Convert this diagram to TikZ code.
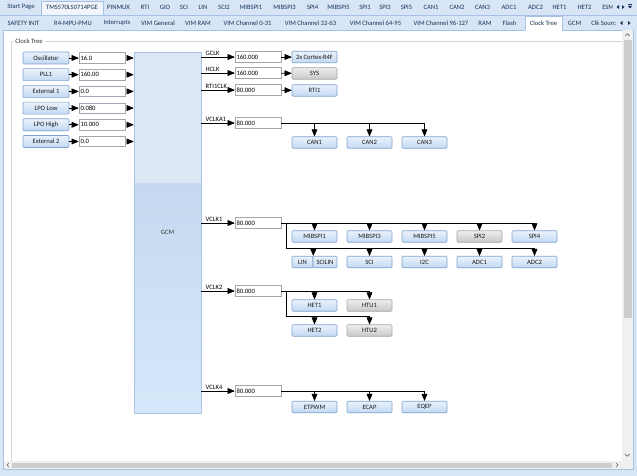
\documentclass[tikz,border=0pt]{standalone}
\usepackage{fontspec}
\setmainfont{Carlito}
\usetikzlibrary{calc,arrows}

\definecolor{tabbg}{HTML}{D7E5F6}
\definecolor{tabline}{HTML}{A7C1E3}
\definecolor{tabtext}{HTML}{1A3354}
\definecolor{btnbord}{HTML}{7FA3CF}
\definecolor{btntop}{HTML}{EAF2FC}
\definecolor{btnbot}{HTML}{C3D9F2}
\definecolor{gbord}{HTML}{A6A6A6}
\definecolor{gtop}{HTML}{EEEEEE}
\definecolor{gbot}{HTML}{C8C8C8}
\definecolor{boxbord}{HTML}{A4A7AF}
\definecolor{gcmbord}{HTML}{A9C4E4}
\definecolor{gcmtop}{HTML}{DCE7F4}
\definecolor{gcmmid}{HTML}{C5D9F0}
\definecolor{gcmlow}{HTML}{D6E7FA}
\definecolor{grpline}{HTML}{CDD7E1}
\definecolor{sbtrack}{HTML}{F0F0F0}
\definecolor{sbthumb}{HTML}{CDCDCD}

\newcommand\uifont{\fontsize{6.6}{7.5}\selectfont}

\tikzset{
  tab/.style={font=\uifont, text=tabtext, inner sep=0pt},
  btn/.style={draw=btnbord, top color=btntop, bottom color=btnbot, rounded corners=1pt,
    minimum width=45pt, minimum height=11.5pt, inner sep=0pt, font=\uifont, text=black!90},
  gbtn/.style={btn, draw=gbord, top color=gtop, bottom color=gbot},
  srcbtn/.style={btn, minimum width=46pt, minimum height=12pt},
  valbox/.style={draw=boxbord, fill=white, text width=43pt, align=left, inner xsep=1.5pt,
    inner ysep=0pt, minimum height=10.5pt, font=\uifont},
  lbl/.style={font=\uifont, inner sep=1pt, anchor=south west, xshift=3pt},
}

\begin{document}
\begin{tikzpicture}[>=triangle 45,x=1pt,y=-1pt,line width=0.6pt]
\useasboundingbox (0,0) rectangle (637,476);
% window and tab strips
\fill[tabbg] (0,0) rectangle (637,476);
\draw[tabline] (0,15) -- (637,15);
\fill[white] (3,30) rectangle (633,469);
\draw[tabline] (3,30) rectangle (633,469);
\draw[tabline,fill=white!60!tabbg] (41,1) rectangle (103,15);
\fill[white] (525,16) rectangle (562,31);
\draw[tabline] (525,30) |- (562,16) -- (562,30);

\node[tab] (tstart) at (21,7) {Start Page};
\node[tab] (tdev) at (72,7) {TMS570LS0714PGE};
\node[tab] (tpinmux) at (118.5,7) {PINMUX};
\node[tab] (trti) at (145,7) {RTI};
\node[tab] (tgio) at (165,7) {GIO};
\node[tab] (tsci) at (184,7) {SCI};
\node[tab] (tlin) at (203,7) {LIN};
\node[tab] (tsci2) at (224,7) {SCI2};
\node[tab] (tmib1) at (251,7) {MIBSPI1};
\node[tab] (tmib3) at (284.5,7) {MIBSPI3};
\node[tab] (tspi4) at (312.5,7) {SPI4};
\node[tab] (tmib5) at (338.5,7) {MIBSPI5};
\node[tab] (tspi1) at (365,7) {SPI1};
\node[tab] (tspi3) at (385,7) {SPI3};
\node[tab] (tspi5) at (406.5,7) {SPI5};
\node[tab] (tcan1) at (431,7) {CAN1};
\node[tab] (tcan2) at (457,7) {CAN2};
\node[tab] (tcan3) at (482.5,7) {CAN3};
\node[tab] (tadc1) at (509,7) {ADC1};
\node[tab] (tadc2) at (535.5,7) {ADC2};
\node[tab] (thet1) at (559.5,7) {HET1};
\node[tab] (thet2) at (584.5,7) {HET2};
\begin{scope}
  \clip (598,0) rectangle (612,15);
  \node[tab,anchor=west] (tesm) at (602,7) {ESM};
\end{scope}
\fill[tabtext] (619,5) -- (619,9) -- (616.5,7) -- cycle;
\fill[tabtext] (622,5) -- (622,9) -- (624.5,7) -- cycle;
\fill[tabtext] (628,6) -- (632,6) -- (630,8.5) -- cycle;
\draw[tabtext,line width=0.5pt] (628,4.5) -- (632,4.5);

\node[tab] (tsafe) at (23.5,23) {SAFETY INIT};
\node[tab] (tmpu) at (73,23) {R4-MPU-PMU};
\node[tab] (tint) at (117,23) {Interrupts};
\node[tab] (tvimg) at (158,23) {VIM General};
\node[tab] (tvimr) at (198,23) {VIM RAM};
\node[tab] (tvim0) at (247.5,23) {VIM Channel 0-31};
\node[tab] (tvim32) at (310.5,23) {VIM Channel 32-63};
\node[tab] (tvim64) at (375.5,23) {VIM Channel 64-95};
\node[tab] (tvim96) at (441,23) {VIM Channel 96-127};
\node[tab] (tram) at (485,23) {RAM};
\node[tab] (tflash) at (509.5,23) {Flash};
\node[tab] (tclk) at (543.5,23) {Clock Tree};
\node[tab] (tgcm) at (574.5,23) {GCM};
\begin{scope}
  \clip (588,16) rectangle (615,30);
  \node[tab,anchor=west] (tclks) at (591,23) {Clk Source};
\end{scope}
\fill[tabtext] (622.5,21) -- (622.5,25) -- (620,23) -- cycle;
\fill[tabtext] (628,21) -- (628,25) -- (630.5,23) -- cycle;

% scroll bars
\fill[sbtrack] (622,30.5) rectangle (632.5,461);
\fill[sbthumb] (623.5,40) rectangle (631.5,318);
\draw[black!60] (625,36) -- (627.3,33.7) -- (629.6,36);
\draw[black!60] (625,454) -- (627.3,456.3) -- (629.6,454);
\fill[sbtrack] (3.5,461) rectangle (632.5,468.5);
\fill[sbthumb] (12,462.5) rectangle (612,467.5);
\draw[black!60] (9,463) -- (7,465) -- (9,467);
\draw[black!60] (616,463) -- (618,465) -- (616,467);

% group box
\draw[grpline] (14,41) -| (11,461);
\draw[grpline] (45,41) -- (622,41);
\node[font=\uifont,text=black!80,anchor=west,inner sep=0pt] (grp) at (15,41) {Clock Tree};

% GCM
\fill[gcmtop] (134,52) rectangle (201,183);
\shade[top color=gcmmid,bottom color=gcmlow] (134,183) rectangle (201,413);
\node[draw=gcmbord,minimum width=67pt,minimum height=361pt,inner sep=0pt,font=\uifont,text=black!80] (gcm) at (167.5,232.5) {GCM};

% clock sources
\node[srcbtn] (osc) at (46,58) {Oscillator};
\node[srcbtn] (pll) at (46,74.7) {PLL1};
\node[srcbtn] (ext1) at (46,91.4) {External 1};
\node[srcbtn] (lpol) at (46,108.1) {LPO Low};
\node[srcbtn] (lpoh) at (46,124.8) {LPO High};
\node[srcbtn] (ext2) at (46,141.5) {External 2};
\node[valbox] (oscv) at (102,58) {16.0};
\node[valbox] (pllv) at (102,74.7) {160.00};
\node[valbox] (ext1v) at (102,91.4) {0.0};
\node[valbox] (lpolv) at (102,108.1) {0.080};
\node[valbox] (lpohv) at (102,124.8) {10.000};
\node[valbox] (ext2v) at (102,141.5) {0.0};
\draw[->] (osc) -- (oscv);
\draw[->] (pll) -- (pllv);
\draw[->] (ext1) -- (ext1v);
\draw[->] (lpol) -- (lpolv);
\draw[->] (lpoh) -- (lpohv);
\draw[->] (ext2) -- (ext2v);
\draw[->,shorten <=2pt] (oscv.east) -- (gcm.west |- oscv);
\draw[->,shorten <=2pt] (pllv.east) -- (gcm.west |- pllv);
\draw[->,shorten <=2pt] (ext1v.east) -- (gcm.west |- ext1v);
\draw[->,shorten <=2pt] (lpolv.east) -- (gcm.west |- lpolv);
\draw[->,shorten <=2pt] (lpohv.east) -- (gcm.west |- lpohv);
\draw[->,shorten <=2pt] (ext2v.east) -- (gcm.west |- ext2v);

% clock domains
\node[valbox] (gclkv) at (258,57) {160.000};
\node[valbox] (hclkv) at (258,73) {160.000};
\node[valbox] (rtiv) at (258,90) {80.000};
\node[valbox] (va1v) at (258,123) {80.000};
\node[valbox] (v1v) at (258,223) {80.000};
\node[valbox] (v2v) at (258,291) {80.000};
\node[valbox] (v4v) at (258,391) {80.000};
\draw[->] (gcm.east |- gclkv) -- node[lbl,pos=0] {GCLK} (gclkv);
\draw[->] (gcm.east |- hclkv) -- node[lbl,pos=0] {HCLK} (hclkv);
\draw[->] (gcm.east |- rtiv) -- node[lbl,pos=0] {RTI1CLK} (rtiv);
\draw[->] (gcm.east |- va1v) -- node[lbl,pos=0] {VCLKA1} (va1v);
\draw[->] (gcm.east |- v1v) -- node[lbl,pos=0] {VCLK1} (v1v);
\draw[->] (gcm.east |- v2v) -- node[lbl,pos=0] {VCLK2} (v2v);
\draw[->] (gcm.east |- v4v) -- node[lbl,pos=0] {VCLK4} (v4v);

% modules
\node[btn] (cpu) at (314.5,57) {2x Cortex-R4F};
\node[gbtn] (sys) at (314.5,73.5) {SYS};
\node[btn] (rti) at (314.5,90.5) {RTI1};
\draw[->] (gclkv) -- (cpu);
\draw[->] (hclkv) -- (sys);
\draw[->] (rtiv) -- (rti);

\node[btn] (can1) at (314.5,142.5) {CAN1};
\node[btn] (can2) at (369.5,142.5) {CAN2};
\node[btn] (can3) at (424.5,142.5) {CAN3};
\draw[->] (va1v.east) -| (can3.north);
\draw[->] (can1.north |- va1v.east) -- (can1.north);
\draw[->] (can2.north |- va1v.east) -- (can2.north);

\node[btn] (mib1) at (314.5,236.5) {MIBSPI1};
\node[btn] (mib3) at (369.5,236.5) {MIBSPI3};
\node[btn] (mib5) at (424.5,236.5) {MIBSPI5};
\node[gbtn] (spi2) at (479.5,236.5) {SPI2};
\node[btn] (spi4) at (534.5,236.5) {SPI4};
\node[btn,minimum width=21pt] (lin) at (302.5,262) {LIN};
\node[btn,minimum width=24pt] (scilin) at (325,262) {SCILIN};
\node[btn] (sci) at (369.5,262) {SCI};
\node[btn] (i2c) at (424.5,262) {I2C};
\node[btn] (adc1) at (479.5,262) {ADC1};
\node[btn] (adc2) at (534.5,262) {ADC2};
\draw[->] (v1v.east) -| (spi4.north);
\draw[->] (mib1.north |- v1v.east) -- (mib1.north);
\draw[->] (mib3.north |- v1v.east) -- (mib3.north);
\draw[->] (mib5.north |- v1v.east) -- (mib5.north);
\draw[->] (spi2.north |- v1v.east) -- (spi2.north);
\coordinate (v1a) at ($(v1v.east)+(5,0)$);
\coordinate (v1b) at ($(v1a)+(0,25)$);
\draw (v1a) -- (v1b);
\draw[->] (v1b) -| (adc2.north);
\draw[->] (lin.north east |- v1b) -- (lin.north east);
\draw[->] (sci.north |- v1b) -- (sci.north);
\draw[->] (i2c.north |- v1b) -- (i2c.north);
\draw[->] (adc1.north |- v1b) -- (adc1.north);

\node[btn] (het1) at (314.5,305.5) {HET1};
\node[gbtn] (htu1) at (369.5,305.5) {HTU1};
\node[btn] (het2) at (314.5,330.5) {HET2};
\node[gbtn] (htu2) at (369.5,330.5) {HTU2};
\draw[->] (v2v.east) -| (htu1.north);
\draw[->] (het1.north |- v2v.east) -- (het1.north);
\coordinate (v2a) at ($(v2v.east)+(5,0)$);
\coordinate (v2b) at ($(v2a)+(0,25)$);
\draw (v2a) -- (v2b);
\draw[->] (v2b) -| (htu2.north);
\draw[->] (het2.north |- v2b) -- (het2.north);

\node[btn] (etpwm) at (314.5,407) {ETPWM};
\node[btn] (ecap) at (369.5,407) {ECAP};
\node[btn] (eqep) at (424.5,407) {EQEP};
\draw[->] (v4v.east) -| (eqep.north);
\draw[->] (etpwm.north |- v4v.east) -- (etpwm.north);
\draw[->] (ecap.north |- v4v.east) -- (ecap.north);
\end{tikzpicture}
\end{document}
